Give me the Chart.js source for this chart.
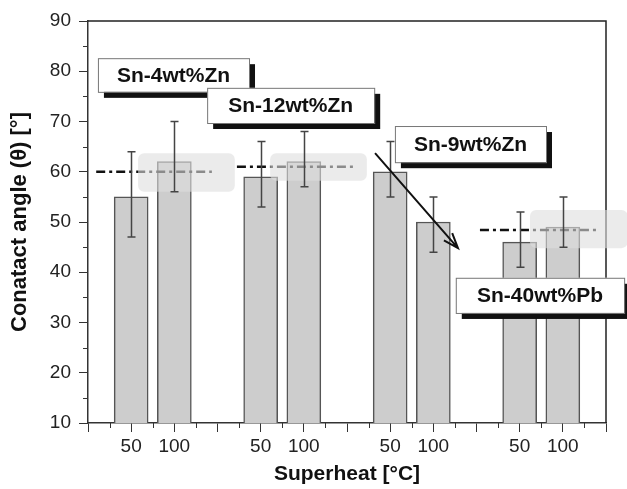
<!DOCTYPE html>
<html>
<head>
<meta charset="utf-8">
<script src="https://cdn.jsdelivr.net/npm/chart.js@4.4.1/dist/chart.umd.min.js"></script>
<style>
  html, body { margin: 0; padding: 0; background: #fff; }
  #wrap { width: 627px; height: 489px; position: relative; }
</style>
</head>
<body>
<div id="wrap"><canvas id="chart"></canvas></div>
<script>
// Alloys (groups) and the two superheats per group
const alloys = ['Sn-4wt%Zn', 'Sn-12wt%Zn', 'Sn-9wt%Zn', 'Sn-40wt%Pb'];
const superheats = ['50', '100'];

// Contact angle (deg) at 50 and 100 C superheat
const angle50 = [55, 59, 60, 46];
const angle100 = [62, 62, 50, 49];

// Error bar ranges [low, high]
const err50 = [[47, 64], [53, 66], [55, 66], [41, 52]];
const err100 = [[56, 70], [57, 68], [44, 55], [45, 55]];

// Dash-dot reference lines per group: level and x-extent (axis units)
const refLevel = [60, 61, null, 48.4];
const refFrom = [0.19, 3.45, null, 9.08];
const refTo = [2.87, 6.14, null, 11.81];

// Light shaded boxes: [x0, x1, yLow, yHigh]
const shadeBoxes = [[1.16, 3.4, 56, 63.7], [4.22, 6.46, 58.2, 63.7], [10.24, 12.5, 44.8, 52.4]];

// Alloy label boxes: [x0, x1, yLow, yHigh] in axis units
const labelBoxes = [[0.23, 3.73, 75.9, 82.6], [2.76, 6.63, 69.7, 76.7], [7.11, 10.61, 61.9, 69.1], [8.52, 12.42, 31.9, 38.9]];

// Arrow from Sn-9wt%Zn label down to the bars
const arrowFrom = [6.65, 63.7];
const arrowTo = [8.57, 44.8];

const GROUP_STEP = 3;
const FONT = "'Liberation Sans', Arial, sans-serif";

const bars = [];
const errs = [];
alloys.forEach((a, g) => {
  bars.push({ x: g * GROUP_STEP + 1, y: angle50[g] });
  errs.push({ x: g * GROUP_STEP + 1, lo: err50[g][0], hi: err50[g][1] });
  bars.push({ x: g * GROUP_STEP + 2, y: angle100[g] });
  errs.push({ x: g * GROUP_STEP + 2, lo: err100[g][0], hi: err100[g][1] });
});

const decorPlugin = {
  id: 'decor',
  afterDatasetsDraw(chart) {
    const { ctx, chartArea: ca, scales: { x, y } } = chart;
    ctx.save();

    // frame (top and right)
    ctx.strokeStyle = '#222';
    ctx.lineWidth = 1.5;
    ctx.beginPath();
    ctx.moveTo(ca.left, ca.top);
    ctx.lineTo(ca.right, ca.top);
    ctx.lineTo(ca.right, ca.bottom);
    ctx.stroke();

    // minor ticks
    ctx.strokeStyle = '#333';
    ctx.lineWidth = 1;
    for (let v = 15; v < 90; v += 10) {
      const py = Math.round(y.getPixelForValue(v)) + 0.5;
      ctx.beginPath();
      ctx.moveTo(ca.left - 5, py);
      ctx.lineTo(ca.left, py);
      ctx.stroke();
    }
    for (let v = 0.5; v < 12; v += 1) {
      const px = Math.round(x.getPixelForValue(v)) + 0.5;
      ctx.beginPath();
      ctx.moveTo(px, ca.bottom);
      ctx.lineTo(px, ca.bottom + 5);
      ctx.stroke();
    }

    // dash-dot reference lines
    ctx.strokeStyle = '#111';
    ctx.lineWidth = 2.5;
    ctx.setLineDash([9, 4, 3, 4]);
    refLevel.forEach((lv, i) => {
      if (lv == null) return;
      const py = y.getPixelForValue(lv);
      ctx.beginPath();
      ctx.moveTo(x.getPixelForValue(refFrom[i]), py);
      ctx.lineTo(x.getPixelForValue(refTo[i]), py);
      ctx.stroke();
    });
    ctx.setLineDash([]);

    // shaded boxes over bars
    ctx.fillStyle = 'rgba(222,222,222,0.6)';
    shadeBoxes.forEach(b => {
      const x0 = x.getPixelForValue(b[0]), x1 = x.getPixelForValue(b[1]);
      const y0 = y.getPixelForValue(b[3]), y1 = y.getPixelForValue(b[2]);
      ctx.beginPath();
      ctx.roundRect(x0, y0, x1 - x0, y1 - y0, 6);
      ctx.fill();
    });

    // error bars
    ctx.strokeStyle = '#444';
    ctx.lineWidth = 1.5;
    errs.forEach(e => {
      const px = Math.round(x.getPixelForValue(e.x)) + 0.5;
      const pl = y.getPixelForValue(e.lo), ph = y.getPixelForValue(e.hi);
      ctx.beginPath();
      ctx.moveTo(px, pl); ctx.lineTo(px, ph);
      ctx.moveTo(px - 4, pl); ctx.lineTo(px + 4, pl);
      ctx.moveTo(px - 4, ph); ctx.lineTo(px + 4, ph);
      ctx.stroke();
    });

    // label boxes with shadow
    ctx.font = 'bold 21px ' + FONT;
    ctx.textAlign = 'center';
    ctx.textBaseline = 'middle';
    labelBoxes.forEach((b, i) => {
      const x0 = x.getPixelForValue(b[0]), x1 = x.getPixelForValue(b[1]);
      const y0 = y.getPixelForValue(b[3]), y1 = y.getPixelForValue(b[2]);
      ctx.fillStyle = '#111';
      ctx.fillRect(x0 + 6, y0 + 6, x1 - x0, y1 - y0);
      ctx.fillStyle = '#fff';
      ctx.fillRect(x0, y0, x1 - x0, y1 - y0);
      ctx.strokeStyle = '#777';
      ctx.lineWidth = 1;
      ctx.strokeRect(x0 + 0.5, y0 + 0.5, x1 - x0, y1 - y0);
      ctx.fillStyle = '#111';
      ctx.fillText(alloys[i], (x0 + x1) / 2, (y0 + y1) / 2 + 1);
    });

    // arrow
    const ax0 = x.getPixelForValue(arrowFrom[0]), ay0 = y.getPixelForValue(arrowFrom[1]);
    const ax1 = x.getPixelForValue(arrowTo[0]), ay1 = y.getPixelForValue(arrowTo[1]);
    const ang = Math.atan2(ay1 - ay0, ax1 - ax0);
    ctx.strokeStyle = '#111';
    ctx.lineWidth = 2;
    ctx.beginPath();
    ctx.moveTo(ax0, ay0);
    ctx.lineTo(ax1, ay1);
    ctx.moveTo(ax1 - 16 * Math.cos(ang - 0.35), ay1 - 16 * Math.sin(ang - 0.35));
    ctx.lineTo(ax1, ay1);
    ctx.lineTo(ax1 - 16 * Math.cos(ang + 0.35), ay1 - 16 * Math.sin(ang + 0.35));
    ctx.stroke();

    ctx.restore();
  }
};

new Chart(document.getElementById('chart'), {
  type: 'bar',
  data: {
    datasets: [{
      data: bars,
      backgroundColor: '#cdcdcd',
      borderColor: '#555',
      borderWidth: 1.5,
      borderSkipped: false,
      barThickness: 34,
    }],
  },
  options: {
    responsive: true,
    maintainAspectRatio: false,
    animation: false,
    layout: { padding: { top: 21, right: 21, left: 0, bottom: 0 } },
    plugins: { legend: { display: false }, tooltip: { enabled: false } },
    scales: {
      x: {
        type: 'linear',
        min: 0,
        max: 12,
        offset: false,
        afterFit(scale) { scale.height = 66; },
        afterBuildTicks(scale) {
          scale.ticks = Array.from({ length: 13 }, (_, i) => ({ value: i }));
        },
        ticks: {
          autoSkip: false,
          maxRotation: 0,
          padding: 3,
          color: '#222',
          font: { family: FONT, size: 19 },
          callback: v => {
            const r = v % GROUP_STEP;
            return r === 0 ? '' : superheats[r - 1];
          },
        },
        grid: { drawOnChartArea: false, offset: false, tickLength: 9, color: '#333', lineWidth: 1 },
        border: { color: '#333', width: 1.5 },
        title: {
          display: true,
          text: 'Superheat [°C]',
          color: '#111',
          font: { family: FONT, size: 21, weight: 'bold' },
          padding: { top: 0, bottom: 2 },
        },
      },
      y: {
        min: 10,
        max: 90,
        afterFit(scale) { scale.width = 88; },
        ticks: {
          stepSize: 10,
          padding: 8,
          color: '#222',
          font: { family: FONT, size: 19 },
        },
        grid: { drawOnChartArea: false, tickLength: 9, color: '#333', lineWidth: 1 },
        border: { color: '#333', width: 1.5 },
        title: {
          display: true,
          text: 'Conatact angle (θ) [°]',
          color: '#111',
          font: { family: FONT, size: 22, weight: 'bold' },
          padding: { top: 7, bottom: 0 },
        },
      },
    },
  },
  plugins: [decorPlugin],
});
</script>
</body>
</html>
